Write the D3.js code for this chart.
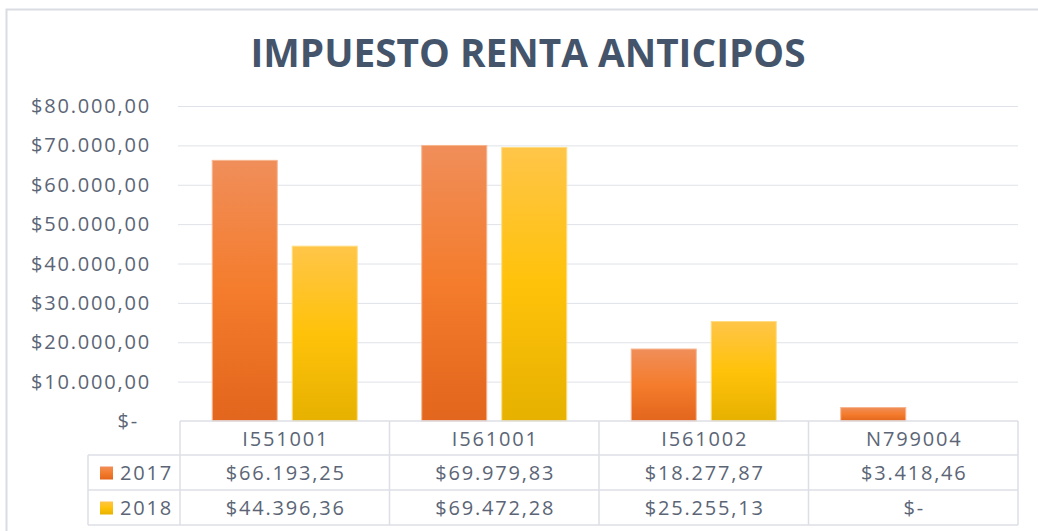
<!DOCTYPE html>
<html>
<head>
<meta charset="utf-8">
<script src="https://cdn.jsdelivr.net/npm/d3@7"></script>
<style>
  body { margin: 0; background: #fff; }
  text { font-family: "Open Sans", sans-serif; fill: #5b6576; }
  .lbl { letter-spacing: 1.8px; }
</style>
</head>
<body>
<script>
// data
var categories = ["I551001", "I561001", "I561002", "N799004"];
var seriesNames = ["2017", "2018"];
var values2017 = [66193.25, 69979.83, 18277.87, 3418.46];
var values2018 = [44396.36, 69472.28, 25255.13, 0];
var yTicks = [0, 10000, 20000, 30000, 40000, 50000, 60000, 70000, 80000];

var W = 1038, H = 531;
var plot = {left: 180, right: 1018, top: 106, bottom: 421};

var loc = d3.formatLocale({decimal: ",", thousands: ".", grouping: [3], currency: ["$", ""]});
var money = function(v) { return v === 0 ? "$-" : loc.format("$,.2f")(v); };

var svg = d3.select("body").append("svg")
    .attr("width", W)
    .attr("height", H);

var defs = svg.append("defs");
var grads = [
  {id: "g2017", stops: ["#f08e5a", "#f47c2c", "#e2661d"]},
  {id: "g2018", stops: ["#ffc548", "#ffc20a", "#e6b100"]}
];
grads.forEach(function(g) {
  var lg = defs.append("linearGradient").attr("id", g.id)
      .attr("x1", 0).attr("y1", 0).attr("x2", 0).attr("y2", 1);
  lg.append("stop").attr("offset", "0%").attr("stop-color", g.stops[0]);
  lg.append("stop").attr("offset", "50%").attr("stop-color", g.stops[1]);
  lg.append("stop").attr("offset", "100%").attr("stop-color", g.stops[2]);
});

// chart frame
svg.append("rect")
    .attr("x", 6.5).attr("y", 9.5)
    .attr("width", W + 10).attr("height", H + 10)
    .attr("fill", "none").attr("stroke", "#d9dce3").attr("stroke-width", 2);

svg.append("text")
    .attr("x", 528).attr("y", 67)
    .attr("text-anchor", "middle")
    .attr("textLength", 555).attr("lengthAdjust", "spacingAndGlyphs")
    .style("font-size", "40px").style("font-weight", "bold").style("fill", "#44546a")
    .text("IMPUESTO RENTA ANTICIPOS");

var x = d3.scaleBand().domain(categories).range([plot.left, plot.right]);
var y = d3.scaleLinear().domain([0, 80000]).range([plot.bottom, plot.top]);

// gridlines
svg.append("g").selectAll("line")
    .data(yTicks.filter(function(d) { return d > 0; }))
    .enter().append("line")
    .attr("x1", plot.left - 2).attr("x2", plot.right)
    .attr("y1", function(d) { return y(d) + 0.5; })
    .attr("y2", function(d) { return y(d) + 0.5; })
    .attr("stroke", "#dfe2e8").attr("stroke-width", 1);

// y labels
svg.append("g").selectAll("text")
    .data(yTicks)
    .enter().append("text")
    .attr("class", "lbl")
    .attr("x", function(d) { return d === 0 ? 139 : 151; })
    .attr("y", function(d) { return y(d); })
    .attr("dy", "0.35em")
    .attr("text-anchor", "end")
    .style("font-size", "20px")
    .text(money);

// bars
var barW = 65, gap = 15;
var series = [
  {name: seriesNames[0], values: values2017, fill: "url(#g2017)", stroke: "#f7b58e"},
  {name: seriesNames[1], values: values2018, fill: "url(#g2018)", stroke: "#ffdc80"}
];
series.forEach(function(s, si) {
  svg.append("g").selectAll("rect")
      .data(s.values)
      .enter().append("rect")
      .attr("x", function(d, i) {
        var c = x(categories[i]) + x.bandwidth() / 2;
        return si === 0 ? c - gap / 2 - barW : c + gap / 2;
      })
      .attr("y", function(d) { return y(d); })
      .attr("width", barW)
      .attr("height", function(d) { return plot.bottom - y(d); })
      .attr("fill", s.fill)
      .attr("stroke", function(d) { return d > 0 ? s.stroke : "none"; })
      .attr("stroke-width", 1);
});

// data table
var rowTop = plot.bottom, rowH = [34, 35, 35];
var rowY = [rowTop, rowTop + rowH[0], rowTop + rowH[0] + rowH[1], rowTop + rowH[0] + rowH[1] + rowH[2]];
var tbl = svg.append("g").attr("stroke", "#dcdfe6").attr("stroke-width", 1.5);
var legendLeft = 88;

rowY.forEach(function(yy, i) {
  tbl.append("line")
      .attr("x1", i === 0 ? plot.left : legendLeft).attr("x2", plot.right)
      .attr("y1", yy).attr("y2", yy);
});
[plot.left].concat(categories.map(function(c) { return x(c) + x.bandwidth(); })).forEach(function(xx) {
  tbl.append("line").attr("x1", xx).attr("x2", xx).attr("y1", rowY[0]).attr("y2", rowY[3]);
});
tbl.append("line").attr("x1", legendLeft).attr("x2", legendLeft).attr("y1", rowY[1]).attr("y2", rowY[3]);

// header row
svg.append("g").selectAll("text")
    .data(categories)
    .enter().append("text")
    .attr("class", "lbl")
    .attr("x", function(d) { return x(d) + x.bandwidth() / 2 + 1; })
    .attr("y", (rowY[0] + rowY[1]) / 2 + 1)
    .attr("dy", "0.35em")
    .attr("text-anchor", "middle")
    .style("font-size", "20px")
    .text(function(d) { return d; });

series.forEach(function(s, si) {
  var cy = (rowY[si + 1] + rowY[si + 2]) / 2;
  svg.append("rect")
      .attr("x", 100).attr("y", cy - 6)
      .attr("width", 13).attr("height", 13)
      .attr("fill", s.fill);
  svg.append("text")
      .attr("class", "lbl")
      .attr("x", 120).attr("y", cy)
      .attr("dy", "0.35em")
      .style("font-size", "20px")
      .text(s.name);
  svg.append("g").selectAll("text")
      .data(s.values)
      .enter().append("text")
      .attr("class", "lbl")
      .attr("x", function(d, i) { return x(categories[i]) + x.bandwidth() / 2 + 1; })
      .attr("y", cy)
      .attr("dy", "0.35em")
      .attr("text-anchor", "middle")
      .style("font-size", "20px")
      .text(money);
});
</script>
</body>
</html>
